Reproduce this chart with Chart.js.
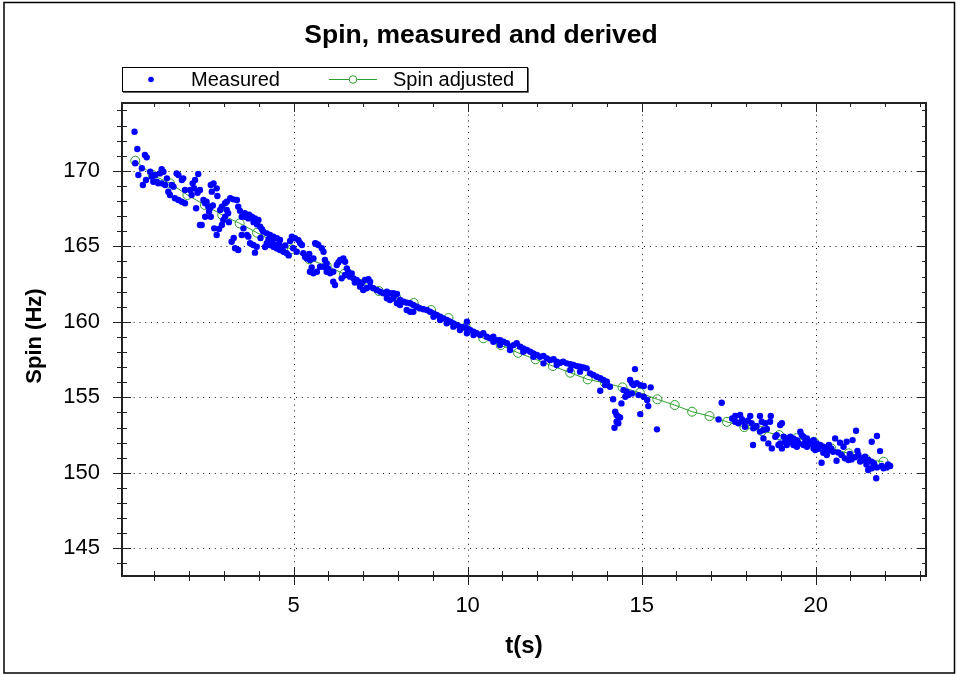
<!DOCTYPE html>
<html>
<head>
<meta charset="utf-8">
<script src="https://cdn.jsdelivr.net/npm/chart.js@4/dist/chart.umd.min.js"></script>
<style>
html,body{margin:0;padding:0;background:#fff;}
canvas{display:block;}
</style>
</head>
<body>
<canvas id="c" width="958" height="675"></canvas>
<script>
// ---- data ----
const chartTitle = 'Spin, measured and derived';
const xTitle = 't(s)';
const yTitle = 'Spin (Hz)';
const seriesNames = ['Measured', 'Spin adjusted'];
const xTicks = [5, 10, 15, 20];
const yTicks = [145, 150, 155, 160, 165, 170];

const measuredT = [
0.43,0.45,0.51,0.54,0.64,0.67,0.73,0.76,0.78,0.88,0.93,0.97,1.02,1.07,1.11,1.16,1.21,1.21,1.26,1.31,
1.36,1.40,1.45,1.50,1.55,1.59,1.64,1.69,1.69,1.79,1.79,1.83,1.88,1.88,2.03,2.07,2.10,2.17,2.20,2.26,
2.31,2.31,2.36,2.41,2.46,2.46,2.50,2.55,2.60,2.62,2.62,2.65,2.70,2.72,2.79,2.79,2.81,2.89,2.94,2.94,
2.98,3.03,3.03,3.08,3.08,3.12,3.18,3.22,3.27,3.32,3.37,3.41,3.41,3.51,3.51,3.56,3.61,3.66,3.70,3.70,
3.75,3.80,3.84,3.89,3.89,3.94,3.99,4.04,4.09,4.13,4.23,4.23,4.32,4.32,4.42,4.42,4.52,4.52,4.61,4.61,
4.71,4.80,4.95,4.99,5.04,5.09,5.19,5.24,5.28,5.33,5.38,5.47,5.47,5.57,5.57,5.62,5.67,5.67,5.71,5.76,
5.81,5.86,5.86,5.95,5.95,6.05,6.14,6.14,6.19,6.24,6.34,6.38,6.43,6.48,6.48,6.53,6.57,6.62,6.72,6.81,
6.86,6.91,6.96,7.00,7.05,7.10,7.15,7.20,7.20,7.29,7.39,7.49,7.58,7.68,7.68,7.77,7.77,7.87,7.87,7.97,
7.97,8.06,8.06,8.16,8.25,8.25,8.35,8.35,8.44,8.44,8.54,8.63,8.73,8.83,8.92,9.02,9.02,9.11,9.21,9.21,
9.30,9.40,9.40,9.50,9.59,9.59,9.69,9.78,9.78,9.88,9.98,9.98,9.98,10.07,10.17,10.17,10.26,10.36,10.45,10.55,
10.65,10.74,10.74,10.84,10.93,10.93,11.03,11.13,11.22,11.22,11.32,11.41,11.51,11.60,11.60,11.70,11.80,11.89,11.89,11.99,
12.08,12.18,12.18,12.28,12.37,12.47,12.56,12.56,12.66,12.75,12.85,12.95,12.95,13.04,13.14,13.23,13.23,13.33,13.42,13.52,
13.61,13.71,13.81,13.81,13.90,13.95,14.00,14.09,14.18,14.22,14.24,14.28,14.28,14.33,14.33,14.38,14.42,14.48,14.53,14.57,
14.62,14.67,14.72,14.72,14.77,14.81,14.86,14.91,14.96,14.96,15.06,15.06,15.16,15.19,15.26,15.44,17.21,17.30,17.69,17.69,
17.78,17.83,17.92,17.97,18.12,18.16,18.20,18.21,18.25,18.40,18.40,18.45,18.50,18.50,18.55,18.64,18.69,18.71,18.74,18.84,
18.88,18.93,18.98,18.98,19.03,19.03,19.08,19.17,19.17,19.27,19.36,19.36,19.46,19.46,19.56,19.60,19.65,19.65,19.75,19.75,
19.84,19.94,19.94,19.99,20.03,20.13,20.17,20.22,20.22,20.32,20.32,20.41,20.45,20.50,20.56,20.60,20.70,20.74,20.80,20.84,
20.89,20.94,21.03,21.06,21.13,21.16,21.23,21.32,21.37,21.42,21.51,21.51,21.61,21.61,21.61,21.74,21.76,21.76,21.85,21.95,
22.04,22.14,
2.14,2.24,2.57,2.68,2.86,3.14,3.28,3.46,3.60,3.72,3.85,3.95,4.05,4.18,4.28,4.38,4.48,4.58,4.66,4.76,
4.86,4.90,5.14,5.45,5.52,5.90,6.00,6.29,6.67,6.76,
17.60,17.88,18.05,18.30,18.60,19.12,19.30,19.52,19.70,19.90,20.08,20.28,20.38,20.65,20.98,21.20,21.28,21.46,21.68,21.90,
22.08
];
const measuredSpin = [
172.59,170.50,171.44,169.72,170.17,169.06,171.05,169.39,170.89,169.94,169.61,169.28,169.72,169.28,169.17,169.83,170.10,169.17,169.94,169.06,
169.50,168.62,168.40,169.06,168.95,168.18,169.83,169.72,168.07,169.39,167.95,169.50,167.85,168.73,168.73,168.40,169.17,169.39,167.52,169.79,
168.73,166.41,166.41,168.07,167.85,166.96,167.95,167.62,167.52,169.06,166.96,168.62,169.17,166.19,168.84,165.75,168.33,167.40,167.62,166.41,
166.74,167.85,166.96,167.95,167.40,167.19,168.18,165.30,168.11,164.87,168.07,167.62,164.76,166.96,165.75,166.19,166.96,165.75,166.85,165.64,
165.20,166.96,165.09,166.85,164.58,164.97,166.74,166.30,166.13,165.97,165.86,165.20,165.75,165.09,165.64,164.97,165.53,164.86,165.42,164.76,
164.64,164.54,165.64,164.87,165.53,164.64,165.20,165.09,164.54,164.30,164.20,164.09,163.32,164.20,163.21,165.20,165.15,163.32,165.09,163.65,
164.87,164.64,163.65,163.32,163.87,163.21,163.32,162.66,162.44,163.76,164.09,162.88,164.20,163.98,163.10,163.54,163.32,162.99,162.88,162.77,
162.66,162.33,162.55,162.11,162.77,162.22,162.82,162.66,162.33,162.22,162.11,161.99,161.89,161.99,161.56,161.89,161.45,161.89,161.56,161.84,
161.23,161.45,161.11,161.33,161.27,160.78,161.23,160.67,161.11,160.67,161.00,160.89,160.83,160.78,160.67,160.56,160.34,160.45,160.34,160.12,
160.23,160.12,159.90,160.01,159.90,159.68,159.79,159.68,159.46,159.64,159.57,159.24,160.01,159.46,159.34,159.13,159.24,159.13,159.24,159.01,
158.91,159.01,158.68,158.79,158.79,158.46,158.68,158.58,158.35,158.13,158.46,158.58,158.35,158.24,158.02,158.13,158.02,157.91,157.69,157.80,
157.69,157.74,157.25,157.58,157.47,157.52,157.36,157.14,157.29,157.36,157.25,157.20,156.81,157.14,157.07,157.03,156.70,156.98,156.92,156.59,
156.48,156.36,156.26,155.44,156.15,155.81,156.03,155.70,154.87,152.99,154.05,153.83,153.38,153.72,153.28,153.67,154.60,155.48,155.04,155.37,
155.15,156.15,155.93,155.26,155.81,156.87,155.93,155.15,155.81,153.89,155.75,155.04,154.82,154.42,155.66,152.88,153.54,154.64,153.76,153.38,
153.28,153.83,153.38,153.05,153.76,153.28,151.84,152.95,153.05,153.76,152.73,153.38,152.84,152.28,153.28,151.95,153.38,153.76,151.62,152.39,
152.50,151.84,153.17,151.95,153.28,151.62,152.39,152.28,151.84,152.39,152.28,151.84,152.17,151.73,152.72,152.50,152.39,151.84,152.28,151.73,
152.06,152.17,151.62,151.51,151.95,151.84,150.67,151.73,151.33,151.62,151.18,151.51,151.62,151.40,152.28,150.80,152.00,151.18,151.73,150.96,
152.06,150.85,150.89,152.17,151.03,152.79,151.18,150.96,150.85,151.07,150.85,150.19,150.74,150.30,152.06,149.64,152.44,150.36,151.44,150.30,
150.36,150.45,
168.85,168.55,167.30,167.70,166.15,166.60,165.55,167.35,167.20,167.10,166.60,166.45,165.55,164.95,165.45,165.30,165.10,165.15,164.95,165.05,
164.40,165.35,165.40,164.50,163.60,164.10,163.50,163.95,163.20,162.60,
153.60,153.55,153.45,153.10,152.90,152.05,152.05,151.95,152.05,151.90,151.60,151.45,151.85,151.35,151.25,151.45,150.75,150.55,150.60,150.45,
150.55
];

const adjustedT = [
0.45,0.95,1.45,1.95,2.45,2.95,3.45,3.95,4.45,4.95,5.45,5.95,6.45,6.95,7.45,7.95,8.45,8.95,9.45,9.95,
10.45,10.95,11.45,11.95,12.45,12.95,13.45,13.95,14.45,14.95,15.45,15.95,16.45,16.95,17.45,17.95,18.45,18.95,19.45,19.95,
20.45,20.95,21.45,21.95
];
const adjustedSpin = [
170.67,169.72,169.17,168.40,167.74,167.07,166.52,165.90,165.28,164.80,164.14,163.70,163.17,162.50,162.04,161.61,161.25,160.78,160.25,159.66,
158.91,158.46,157.95,157.52,157.07,156.63,156.19,155.95,155.66,155.30,154.87,154.49,154.05,153.76,153.38,153.03,152.77,152.50,152.30,152.06,
151.62,151.29,150.89,150.74
];

// ---- styling ----
const FONT = "'Liberation Sans', Arial, Helvetica, sans-serif";
const BLUE = '#0000ff';
const GREEN = '#2e9e2e';

const measuredPts = measuredT.map((t, i) => ({x: t, y: measuredSpin[i]}));
const adjustedPts = adjustedT.map((t, i) => ({x: t, y: adjustedSpin[i]}));

const decor = {
  id: 'decor',
  beforeDraw(chart) {
    const ctx = chart.ctx;
    ctx.save();
    ctx.fillStyle = '#fff';
    ctx.fillRect(0, 0, chart.width, chart.height);
    ctx.strokeStyle = '#000';
    ctx.lineWidth = 1.5;
    ctx.strokeRect(4, 2.5, 950.5, 670.5);
    ctx.restore();
  },
  beforeDatasetsDraw(chart) {
    const {ctx, chartArea: a, scales: {x, y}} = chart;
    ctx.save();
    ctx.strokeStyle = '#111';
    ctx.lineWidth = 1;
    ctx.setLineDash([1, 4.8]);
    xTicks.forEach(v => {
      const px = Math.round(x.getPixelForValue(v)) + 0.5;
      ctx.beginPath(); ctx.moveTo(px, a.top); ctx.lineTo(px, a.bottom); ctx.stroke();
    });
    yTicks.forEach(v => {
      const py = Math.round(y.getPixelForValue(v)) + 0.5;
      ctx.beginPath(); ctx.moveTo(a.left, py); ctx.lineTo(a.right, py); ctx.stroke();
    });
    ctx.restore();
  },
  afterDatasetsDraw(chart) {
    const {ctx, chartArea: a, scales: {x, y}} = chart;
    ctx.save();
    ctx.fillStyle = '#222';
    ctx.fillRect(a.left - 1, a.top - 1, 2, a.bottom - a.top + 2);
    ctx.fillRect(a.left - 1, a.bottom - 1, a.right - a.left + 2, 2);
    ctx.fillRect(a.left - 1, a.top - 1, a.right - a.left + 2, 2);
    ctx.fillRect(a.right - 1, a.top - 1, 2, a.bottom - a.top + 2);
    ctx.strokeStyle = '#222';
    ctx.lineWidth = 1;
    ctx.setLineDash([]);
    const line = (x1, y1, x2, y2) => { ctx.beginPath(); ctx.moveTo(x1, y1); ctx.lineTo(x2, y2); ctx.stroke(); };
    for (let v = Math.ceil(x.min); v <= x.max; v++) {
      const major = xTicks.includes(v);
      const px = Math.round(x.getPixelForValue(v)) + 0.5;
      const L = major ? 9 : 5;
      line(px, a.bottom - L, px, a.bottom + L);
      line(px, a.top, px, a.top + (major ? 9 : 4));
    }
    for (let v = Math.ceil(y.min); v <= y.max; v++) {
      const major = yTicks.includes(v);
      const py = Math.round(y.getPixelForValue(v)) + 0.5;
      const L = major ? 9 : 5;
      line(a.left - L, py, a.left + L, py);
      line(a.right - (major ? 9 : 4), py, a.right, py);
    }
    ctx.fillStyle = '#000';
    ctx.textBaseline = 'alphabetic';
    ctx.textAlign = 'center';
    ctx.font = 'bold 26.5px ' + FONT;
    ctx.fillText(chartTitle, 481, 43);
    ctx.font = 'bold 24px ' + FONT;
    ctx.fillText(xTitle, (a.left + a.right) / 2, 653);
    ctx.save();
    ctx.translate(41, 336);
    ctx.rotate(-Math.PI / 2);
    ctx.font = 'bold 22px ' + FONT;
    ctx.fillText(yTitle, 0, 0);
    ctx.restore();
    const lx = 122, ly = 67, lw = 405, lh = 24;
    ctx.fillStyle = '#fff';
    ctx.fillRect(lx, ly, lw, lh);
    ctx.strokeStyle = '#000';
    ctx.lineWidth = 1;
    ctx.strokeRect(lx + 0.5, ly + 0.5, lw, lh);
    ctx.strokeStyle = '#666';
    line(lx + 1, ly + lh + 1.5, lx + lw + 1.5, ly + lh + 1.5);
    line(lx + lw + 1.5, ly + 1, lx + lw + 1.5, ly + lh + 1.5);
    const cy = 79.5;
    ctx.fillStyle = BLUE;
    ctx.beginPath(); ctx.arc(151, cy, 2.8, 0, Math.PI * 2); ctx.fill();
    ctx.strokeStyle = GREEN;
    line(329, cy, 377, cy);
    ctx.beginPath(); ctx.arc(353, cy, 3.8, 0, Math.PI * 2);
    ctx.fillStyle = '#fff'; ctx.fill(); ctx.stroke();
    ctx.fillStyle = '#000';
    ctx.textAlign = 'left';
    ctx.font = '20px ' + FONT;
    ctx.fillText(seriesNames[0], 191, 86);
    ctx.fillText(seriesNames[1], 393, 86);
    ctx.restore();
  }
};

new Chart(document.getElementById('c'), {
  type: 'scatter',
  data: {
    datasets: [
      {
        label: seriesNames[0],
        data: measuredPts,
        showLine: false,
        pointRadius: 3.2,
        pointBorderWidth: 0,
        pointBackgroundColor: BLUE,
        pointBorderColor: BLUE,
        order: 1
      },
      {
        label: seriesNames[1],
        data: adjustedPts,
        showLine: true,
        borderColor: GREEN,
        borderWidth: 1,
        tension: 0,
        pointRadius: 4.5,
        pointBorderWidth: 1,
        pointBorderColor: GREEN,
        pointBackgroundColor: 'rgba(0,0,0,0)',
        order: 2
      }
    ]
  },
  options: {
    responsive: false,
    devicePixelRatio: 1,
    animation: false,
    events: [],
    layout: {padding: {left: 0, right: 32, top: 103, bottom: 0}},
    plugins: {legend: {display: false}, title: {display: false}, tooltip: {enabled: false}},
    scales: {
      x: {
        type: 'linear', position: 'bottom', min: 0.07, max: 23.17,
        grid: {display: false, drawTicks: false},
        border: {display: false},
        ticks: {padding: 17, color: '#000', font: {family: FONT, size: 22}, maxRotation: 0, autoSkip: false,
                callback: v => String(v)},
        afterBuildTicks: s => { s.ticks = xTicks.map(v => ({value: v})); },
        afterFit: s => { s.height = 99; }
      },
      y: {
        type: 'linear', position: 'left', min: 143.17, max: 174.49,
        grid: {display: false, drawTicks: false},
        border: {display: false},
        ticks: {padding: 22, color: '#000', font: {family: FONT, size: 22}, autoSkip: false,
                callback: v => String(v)},
        afterBuildTicks: s => { s.ticks = yTicks.map(v => ({value: v})); },
        afterFit: s => { s.width = 122; }
      }
    }
  },
  plugins: [decor]
});
</script>
</body>
</html>
